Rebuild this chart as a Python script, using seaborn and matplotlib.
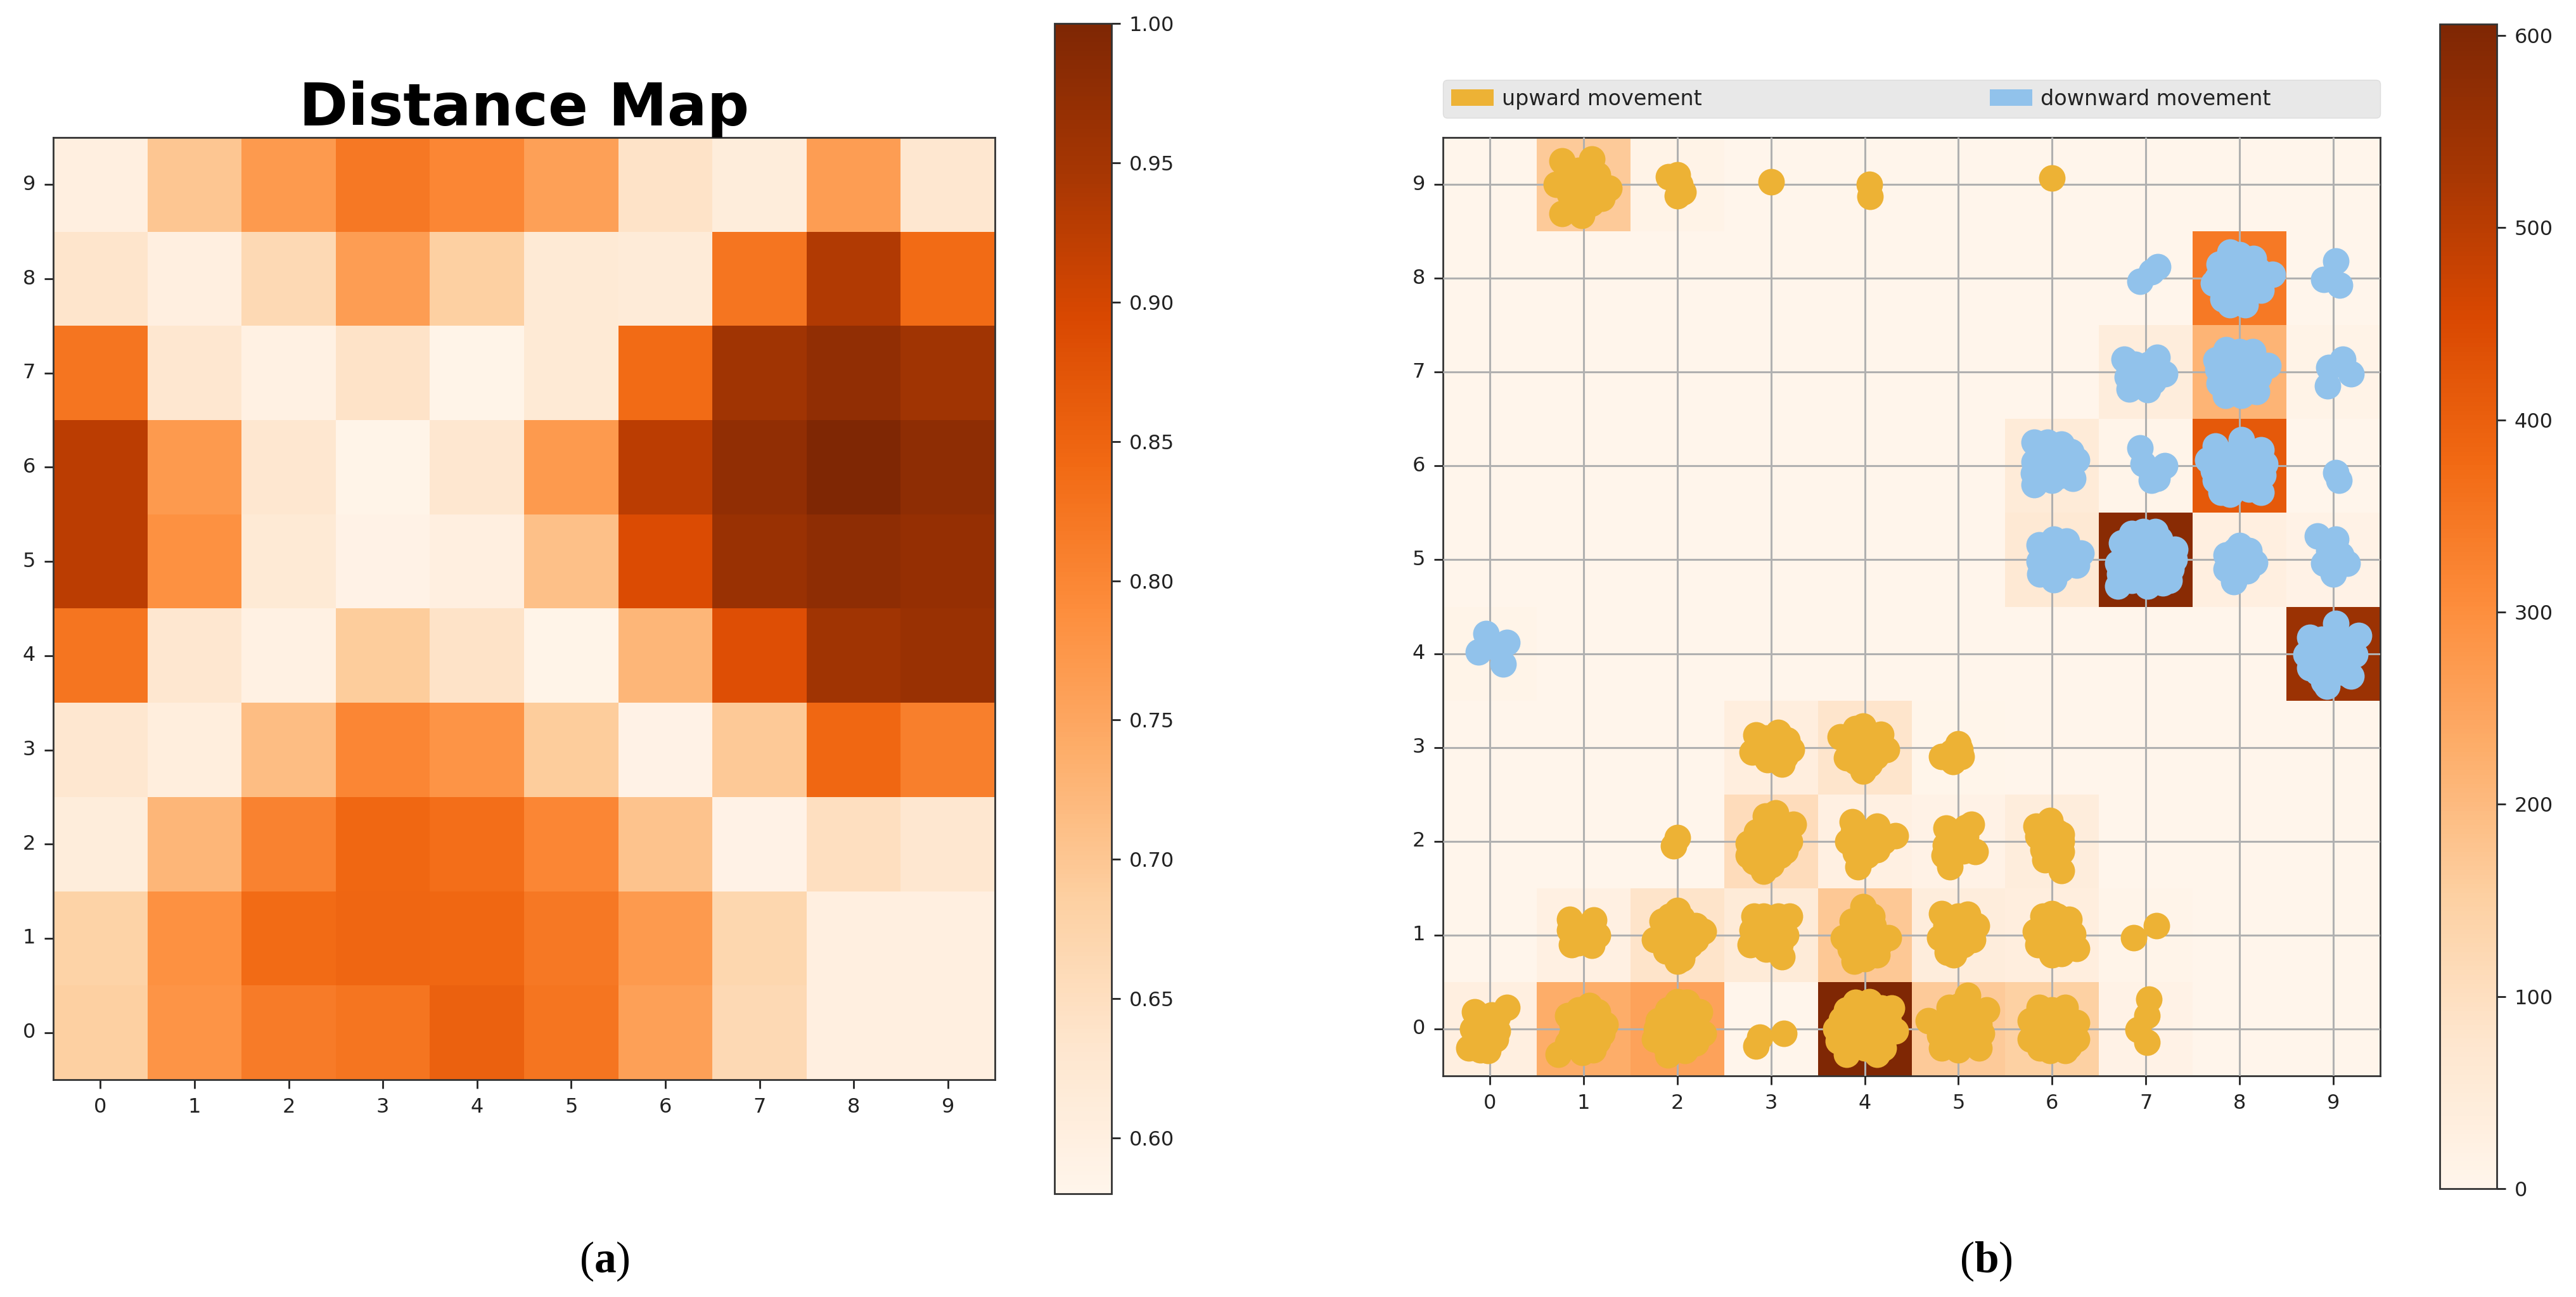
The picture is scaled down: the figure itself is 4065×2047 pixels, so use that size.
import numpy as np
import matplotlib
matplotlib.use("Agg")
import matplotlib.pyplot as plt
from matplotlib.patches import Patch
import seaborn as sns

plt.rcParams["mathtext.fontset"] = "custom"
plt.rcParams["mathtext.rm"] = "Liberation Serif"
plt.rcParams["mathtext.bf"] = "Liberation Serif:bold"

tick_labels = list(range(10))

# rows listed from y=0 upward
distance_rows = [
    [.685, .780, .815, .825, .855, .825, .760, .665, .600, .600],
    [.680, .785, .840, .847, .845, .820, .770, .670, .600, .600],
    [.610, .725, .805, .845, .835, .800, .705, .590, .650, .630],
    [.630, .605, .715, .800, .780, .690, .590, .695, .845, .810],
    [.825, .630, .595, .690, .640, .585, .725, .885, .955, .965],
    [.925, .785, .620, .590, .600, .710, .890, .965, .980, .970],
    [.925, .770, .630, .585, .630, .770, .925, .975, 1.00, .980],
    [.825, .630, .595, .640, .585, .620, .840, .955, .975, .955],
    [.635, .600, .665, .765, .685, .620, .615, .825, .935, .840],
    [.600, .700, .770, .820, .800, .760, .640, .610, .765, .630],
]

count_rows = [
    [30, 230, 255, 0, 606, 165, 150, 15, 0, 0],
    [0, 25, 85, 50, 170, 40, 35, 5, 0, 0],
    [0, 0, 0, 110, 25, 15, 40, 0, 0, 0],
    [0, 0, 0, 35, 80, 3, 0, 0, 0, 0],
    [8, 0, 0, 0, 0, 0, 0, 0, 0, 550],
    [0, 0, 0, 0, 0, 0, 60, 585, 30, 15],
    [0, 0, 0, 0, 0, 0, 50, 5, 415, 0],
    [0, 0, 0, 0, 0, 0, 0, 40, 215, 10],
    [0, 0, 0, 0, 0, 0, 0, 0, 345, 0],
    [0, 165, 10, 2, 2, 0, 2, 0, 0, 0],
]

up_points = [
    (.77,9.25),(1.09,9.27),(.71,9),(1.27,8.96),(.77,8.69),(.98,8.67),(1,9),(1.05,9.12),(1.08,8.8),
    (.95,9.15),(1.2,8.85),(.9,8.75),(.83,9.12),(1.1,8.95),(.85,8.9),(1.15,9.1),
    (1.91,9.08),(2,9.1),(2.06,8.92),(2,8.88),(2.03,9),
    (3,9.03),
    (4.05,9),(4.06,8.87),
    (6,9.07),
    (2.84,3.13),(3.08,3.16),(3.22,2.98),(3.12,2.82),(2.8,2.95),(3,2.98),(2.96,2.87),
    (2.95,3.1),(3.1,3),(2.88,3),(3.05,2.88),(3.17,3.08),(3.15,2.9),(2.9,3.1),
    (3.98,3.23),(3.74,3.11),(4.17,3.14),(4.23,2.98),(3.81,2.89),(3.98,2.75),(4,2.98),
    (3.9,3.12),(4.08,3.1),(3.87,3),(4.12,2.9),(3.9,2.85),(4.1,3.05),(4.05,2.82),(3.9,3.2),
    (5,3.04),(4.94,2.85),(4.82,2.9),(5.02,2.98),(4.93,2.95),(5.03,2.9),
    (2,2.04),(1.96,1.95),
    (2.94,2.27),(3.24,2.18),(2.76,1.98),(3.2,2),(2.76,1.85),(2.92,1.68),(3,2),
    (2.85,2.1),(3.08,2.2),(3.1,2.05),(2.9,1.9),(3.1,1.85),(3,1.75),(2.85,2),(3.05,2.3),(3.15,1.9),(3,2.15),(2.82,1.78),
    (3.87,2.21),(4.13,2.16),(4.33,2.06),(3.82,2),(4.13,1.91),(3.93,1.73),(4,2),
    (3.95,2.1),(4.05,2.05),(3.9,1.88),(4.02,1.85),(4.2,2),(3.88,2.1),
    (4.87,2.14),(5.14,2.18),(4.86,1.96),(5.18,1.89),(4.91,1.73),(5.02,2),
    (4.95,2.05),(5.08,2.05),(4.95,1.88),(5.05,1.9),(5.08,2.15),(4.85,1.85),
    (5.98,2.22),(5.83,2.16),(6.1,2.07),(5.9,1.91),(6.1,1.89),(6.1,1.69),(5.98,2),
    (5.9,2.05),(6.05,2.1),(6,1.9),(6.05,1.78),(5.85,2.05),(5.92,1.8),(6.1,2),
    (.85,1.17),(1.11,1.16),(1.15,1),(.87,.9),(1.09,.89),(1,1.01),
    (.92,1.05),(1.05,1.05),(.95,.92),(1.05,.95),(.85,1.05),(1.1,1.05),
    (2,1.26),(1.76,.95),(2.28,1.04),(1.84,1.15),(2.2,1.1),(2,.72),(2.14,.9),(1.88,.83),(2,1),
    (1.9,1.05),(2.1,1.05),(1.95,.9),(2.08,.85),(2.05,1.18),(1.92,1.2),(1.85,1.05),(2.05,.75),(2.2,.95),
    (2.82,1.2),(3.2,1.2),(2.78,.9),(3.12,.77),(3.16,1),(2.96,1.01),(3,.87),
    (2.9,1.1),(3.05,1.1),(2.87,1),(3.05,.95),(2.95,.85),(3.1,.9),(3.08,1.2),(2.92,1.2),(2.8,1.05),
    (3.98,1.3),(3.87,1.15),(3.77,.97),(4.25,.97),(3.89,.72),(4.13,.79),(4.09,1.1),(4,.99),
    (3.92,1.05),(4.1,1),(3.9,.85),(4.05,.85),(4.15,.9),(4.08,1.2),(3.85,.85),(3.98,1.18),(4,.75),
    (4.82,1.23),(5.1,1.22),(5.19,1.1),(4.8,.97),(4.95,.79),(5.02,1.01),
    (4.92,1.1),(5.08,1.05),(4.9,.9),(5.05,.9),(4.87,1.1),(5,1.2),(5.15,.95),(4.88,.82),
    (6,1.23),(6.18,1.17),(5.82,1.04),(6.22,1.01),(6.26,.86),(6,.79),(6,1.01),
    (5.9,1.1),(6.1,1.1),(5.9,.9),(6.1,.9),(6.05,1.2),(5.9,1.2),(6.1,.8),(5.85,.9),
    (6.87,.97),(7.11,1.1),
    (-.16,.18),(.18,.23),(-.18,0),(.06,-.11),(-.22,-.2),(-.02,-.23),(-.06,.02),
    (0,.12),(-.1,.1),(.05,0),(-.1,-.1),(.02,.15),(.08,.13),(.08,-.02),(-.1,-.22),
    (1.06,.25),(1.23,.05),(.83,.14),(1.15,-.13),(.73,-.27),(.99,-.25),(.87,-.07),(1.03,0),
    (1,.12),(.95,.2),(1.1,.1),(.93,-.05),(1.1,-.05),(.88,.05),(.83,-.15),(.9,-.18),(1.1,-.22),(1.15,.18),(1.2,-.05),
    (2,.29),(1.8,.09),(2.24,.18),(2.28,-.05),(1.76,-.11),(1.9,-.28),(2.08,-.23),(2,0),
    (1.9,.2),(2.1,.2),(1.9,0),(2.1,.05),(2.15,-.1),(2,-.15),(1.87,-.18),(2.1,.28),(1.78,0),(2.2,-.15),
    (2.84,-.18),(2.88,-.09),(3.14,-.05),
    (4.05,.29),(3.81,.2),(4.29,.22),(3.69,0),(4.33,-.02),(4.13,-.27),(3.81,-.27),(4,0),
    (3.9,.1),(4.1,.1),(3.85,-.1),(4.15,-.1),(4,-.2),(4,.15),(4.18,.22),(4.25,.08),(3.75,.1),(3.72,-.13),(4.2,-.2),(3.9,.28),
    (5.1,.36),(4.9,.23),(5.3,.2),(4.68,.09),(4.82,-.2),(5.22,-.2),(5.02,0),(5.02,.25),
    (4.9,.1),(5.12,.1),(4.95,-.12),(5.12,-.1),(5.1,.22),(4.8,.05),(5,-.22),(4.8,-.07),(5.22,.05),(5.25,-.05),
    (5.86,.23),(6.14,.23),(6.26,.07),(5.77,.09),(6.26,-.11),(5.77,-.11),(5.98,-.23),(6.14,-.23),(6,0),
    (5.9,.1),(6.1,.1),(5.9,-.1),(6.1,-.1),(6,.2),(5.87,-.2),(6.18,-.18),
    (7.03,.32),(7.01,.14),(6.92,-.01),(7.01,-.14),
]

down_points = [
    (7.13,8.125),(6.94,7.97),(7.06,8.07),
    (7.9,8.28),(8.15,8.21),(8.35,8.04),(8.23,7.87),(8.06,7.72),(7.82,7.78),(7.76,8),(8,8),
    (7.9,8.1),(8.05,8.1),(7.9,7.9),(8.08,7.88),(8,8.25),(7.78,8.15),(7.72,7.95),(8.2,8.08),(8.2,7.95),(7.9,7.72),(8.15,8.05),(8.27,8),(7.85,7.85),
    (9.03,8.18),(8.9,7.99),(9.07,7.93),
    (6.77,7.14),(7.12,7.155),(7.2,6.98),(6.82,6.82),(7.02,6.81),(7,6.98),
    (6.88,7.08),(7.03,7.08),(6.88,6.92),(7.08,6.9),(6.8,6.95),
    (7.86,7.24),(8.14,7.22),(8.3,7.07),(8.18,6.79),(8.02,6.75),(7.78,6.88),(7.77,7.03),(8,7),
    (7.9,7.1),(8.1,7.1),(7.9,6.9),(8.1,6.9),(8,7.22),(7.85,6.75),(8.2,6.95),(7.75,7.13),
    (9.1,7.14),(8.95,7.05),(9.19,6.98),(8.94,6.85),
    (5.81,6.25),(6.1,6.23),(6.26,6.06),(6.22,5.87),(5.81,5.8),(5.98,6.02),(5.81,6.04),
    (5.92,6.12),(6.08,6.1),(5.92,5.9),(6.1,5.9),(5.8,5.92),(6.2,6.15),(6,5.85),(5.95,6.25),
    (6.94,6.19),(6.97,6.02),(7.2,6),(7.12,5.87),(7.06,5.85),(7.05,5.95),
    (8.02,6.28),(7.74,6.21),(8.23,6.17),(8.27,6.02),(7.66,6.06),(7.74,5.85),(7.9,5.7),(8.23,5.72),(8,6),
    (7.88,6.12),(8.1,6.12),(7.85,5.95),(8.12,5.9),(8,5.78),(8.1,5.75),(8.25,5.9),(8,6.15),(7.8,5.72),(7.72,5.95),
    (9.03,5.93),(9.06,5.85),
    (6.02,5.22),(5.86,5.16),(6.31,5.07),(6.26,4.94),(6.02,4.79),(5.86,4.98),(6.06,5.02),
    (5.95,5.1),(6.15,5.08),(5.95,4.88),(6.1,4.9),(6.15,5.2),(5.87,4.85),(6.05,4.92),
    (6.97,5.3),(6.74,5.18),(7.31,5.11),(7.27,4.9),(6.7,4.72),(7.02,4.72),(7.18,4.75),(6.7,4.96),(7,5),
    (6.88,5.12),(7.12,5.12),(6.88,4.9),(7.12,4.88),(6.85,5.28),(7.15,5.22),(7,4.85),(6.85,4.78),(6.72,4.85),(7.3,5),(7,5.18),(6.8,5.05),(7.25,4.78),(7.1,5.3),
    (8,5.15),(7.86,5.05),(8.16,4.97),(7.94,4.77),(7.86,4.9),
    (8.03,5.02),(7.95,5.1),(7.98,4.88),(8.08,4.88),(8.1,5.1),
    (8.83,5.25),(9.03,5.22),(9.15,4.96),(9,4.85),(8.9,4.96),
    (8.95,5.1),(9.08,5.05),(8.95,5.15),(9.03,4.95),
    (-.04,4.21),(.18,4.12),(-.12,4.02),(.14,3.89),(.02,4.08),
    (9.03,4.32),(8.75,4.17),(9.27,4.19),(9.23,3.99),(8.71,3.99),(9.19,3.76),(8.93,3.65),(9,3.95),(8.83,3.8),
    (8.88,4.15),(9.1,4.15),(8.85,3.95),(9.1,3.95),(9,3.8),(9.02,4.15),(9.1,3.8),(8.9,3.7),(9.15,4.05),(8.78,4.05),(8.75,3.85),
]

W, H = 4065, 2047
ORANGE = "#EDB235"
BLUE = "#91C2EB"
TICK_SIZE = 23
MARKER_S = 910
LEGEND_PAD = " " * 15


def axes_from_px(left, top, right, bottom):
    return fig.add_axes([left / W, 1 - bottom / H, (right - left) / W, (bottom - top) / H])


def style_panel(ax, cax, cbar_ticks, cbar_fmt):
    ax.invert_yaxis()
    ax.set_xticks(np.arange(10) + .5, tick_labels, rotation=0)
    ax.set_yticks(np.arange(10) + .5, tick_labels, rotation=0)
    ax.tick_params(labelsize=TICK_SIZE, length=10, width=2, color="#222222", labelcolor="#222222", pad=10)
    for s in ax.spines.values():
        s.set_visible(True)
        s.set_linewidth(2)
        s.set_color("#333333")
    cb = ax.collections[0].colorbar
    cb.set_ticks(cbar_ticks)
    cb.set_ticklabels([cbar_fmt % t for t in cbar_ticks])
    cb.ax.tick_params(labelsize=TICK_SIZE, length=10, width=2, color="#222222", labelcolor="#222222", pad=10)
    cb.outline.set_visible(True)
    cb.outline.set_linewidth(2)
    cb.outline.set_edgecolor("#333333")


fig = plt.figure(figsize=(W / 100, H / 100), dpi=100, facecolor="white")

# Panel (a)
ax_a = axes_from_px(84, 217, 1570, 1704)
cax_a = axes_from_px(1664, 37, 1754, 1884)
sns.heatmap(np.array(distance_rows), ax=ax_a, cbar_ax=cax_a, cmap="Oranges", vmin=.58, vmax=1.0)
style_panel(ax_a, cax_a, [.60, .65, .70, .75, .80, .85, .90, .95, 1.00], "%.2f")
ax_a.set_title("Distance Map", fontsize=67, fontweight="bold", color="black", pad=14)

# Panel (b)
ax_b = axes_from_px(2277, 217, 3756, 1698)
cax_b = axes_from_px(3850, 38, 3940, 1876)
sns.heatmap(np.array(count_rows), ax=ax_b, cbar_ax=cax_b, cmap="Oranges", vmin=0, vmax=606)
style_panel(ax_b, cax_b, [0, 100, 200, 300, 400, 500, 600], "%d")
ax_b.grid(True, color="#b0b0b0", linewidth=2.2)
ax_b.set_axisbelow(False)

up = np.array(up_points) + .5
down = np.array(down_points) + .5
sns.scatterplot(x=up[:, 0], y=up[:, 1], ax=ax_b, s=MARKER_S, color=ORANGE, linewidth=0, legend=False, zorder=3, clip_on=False)
sns.scatterplot(x=down[:, 0], y=down[:, 1], ax=ax_b, s=MARKER_S, color=BLUE, linewidth=0, legend=False, zorder=3, clip_on=False)
ax_b.set_xlim(0, 10)
ax_b.set_ylim(0, 10)

handles = [Patch(facecolor=ORANGE, label="upward movement"), Patch(facecolor=BLUE, label="downward movement" + LEGEND_PAD)]
ax_b.legend(
    handles=handles, ncol=2, mode="expand", loc="lower left",
    bbox_to_anchor=(0, 1 + 31 / 1481, 1, 63 / 1481), borderaxespad=0,
    fontsize=24, facecolor="#e8e8e8", edgecolor="#dddddd", framealpha=1,
    labelcolor="#222222", handlelength=2.0, handleheight=.85, handletextpad=.4, borderpad=.4,
)

fig.text(954 / W, 1 - 1991 / H, r"($\mathbf{a}$)", family="Liberation Serif", fontsize=50, ha="center", va="center", color="black")
fig.text(3134 / W, 1 - 1991 / H, r"($\mathbf{b}$)", family="Liberation Serif", fontsize=50, ha="center", va="center", color="black")

fig.savefig("out.png", dpi=100, facecolor="white")
